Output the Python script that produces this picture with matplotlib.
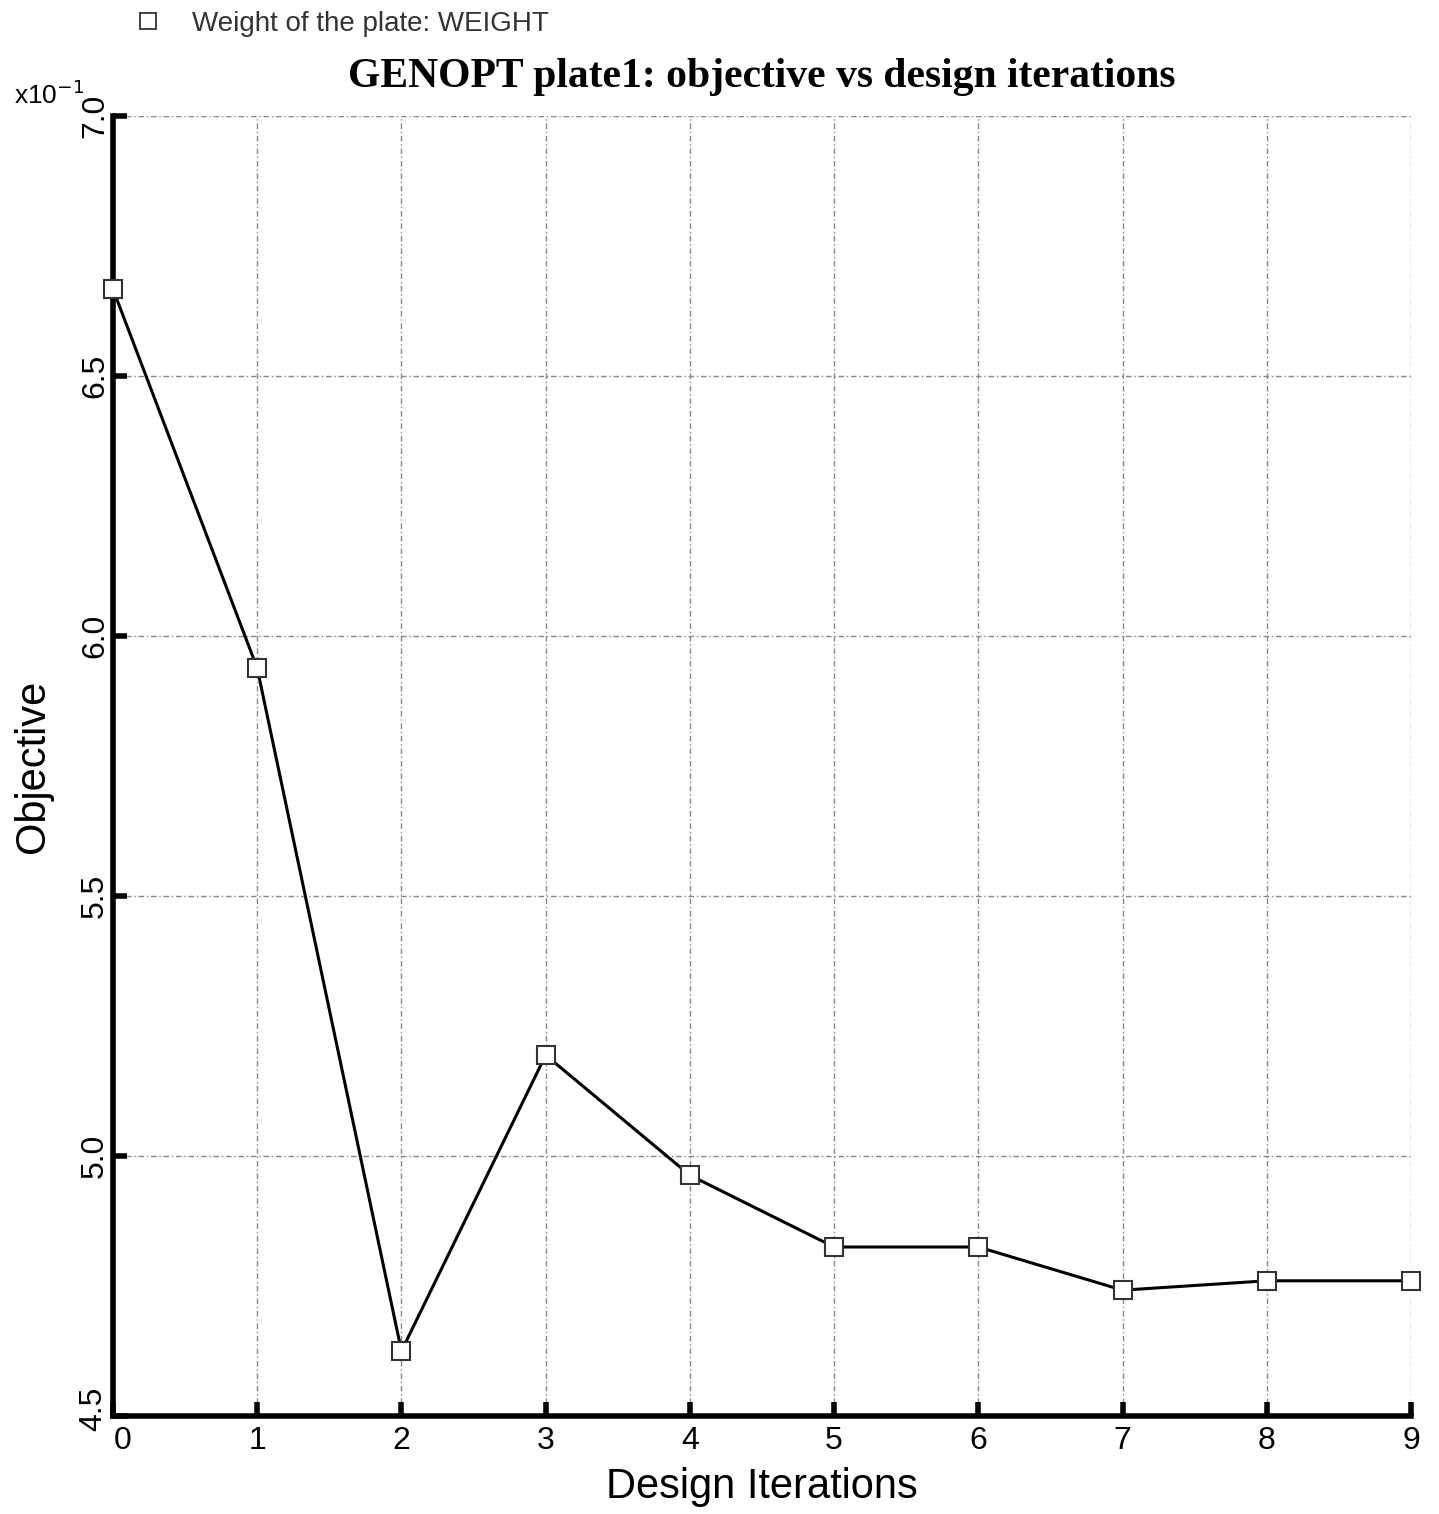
import matplotlib
matplotlib.use("Agg")
import matplotlib.pyplot as plt
import matplotlib.transforms as mtransforms
from matplotlib.lines import Line2D

# Data (objective values shown in units of x10^-1)
iterations = [0, 1, 2, 3, 4, 5, 6, 7, 8, 9]
objective_x10 = [6.667, 5.938, 4.625, 5.194, 4.963, 4.825, 4.825, 4.742, 4.760, 4.760]
y_ticks = [4.5, 5.0, 5.5, 6.0, 6.5, 7.0]
y_ticklabels = ["4.5", "5.0", "5.5", "6.0", "6.5", "7.0"]
series_label = "Weight of the plate: WEIGHT"
title = "GENOPT plate1: objective vs design iterations"

W, H = 1439, 1514
fig = plt.figure(figsize=(W / 100, H / 100), dpi=100)
ax = fig.add_axes([113 / W, 1 - 1416 / H, (1411 - 113) / W, (1416 - 116) / H])

ax.plot(iterations, objective_x10, color="black", lw=2.2, marker="s", ms=13,
        mfc="white", mec="#333333", mew=1.5, clip_on=False, zorder=3)

ax.set_xlim(0, 9)
ax.set_ylim(4.5, 7.0)
ax.set_xticks(iterations)
ax.set_xticklabels([str(i) for i in iterations], fontsize=23, family="Liberation Sans")
ax.set_yticks(y_ticks)
ax.set_yticklabels(y_ticklabels, fontsize=23, family="Liberation Sans", rotation=90, va="center")

ax.grid(True, color="#888888", linestyle=(0, (4, 2, 1, 2)), lw=1.0)
for s in ["top", "right"]:
    ax.spines[s].set_visible(False)
for s in ["left", "bottom"]:
    ax.spines[s].set_linewidth(4)
ax.tick_params(axis="both", direction="in", length=10, width=4, pad=7)
ax.tick_params(axis="y", pad=2)

# nudge the corner labels apart, as in the reference
xl0 = ax.get_xticklabels()[0]
xl0.set_transform(xl0.get_transform() + mtransforms.ScaledTranslation(10 / 100, 0, fig.dpi_scale_trans))
yl0 = ax.get_yticklabels()[0]
yl0.set_transform(yl0.get_transform() + mtransforms.ScaledTranslation(-2 / 100, 7 / 100, fig.dpi_scale_trans))

ax.set_xlabel("Design Iterations", fontsize=30, family="Liberation Sans", labelpad=8)
ax.set_ylabel("Objective", fontsize=30, family="Liberation Sans", labelpad=18)
ax.set_title(title, fontsize=30, family="Liberation Serif", fontweight="bold", pad=21)

fig.text(14 / W, 1 - 95 / H, r"x10$^{-1}$", fontsize=19, family="Liberation Sans", va="center")

# legend at top-left
h = Line2D([], [], color="none", marker="s", ms=11, mfc="white", mec="#333333", mew=1.3)
fig.legend([h], [series_label], loc="upper left", bbox_to_anchor=(106 / W, 1 + 14 / H),
           frameon=False, prop={"family": "Liberation Sans", "size": 20},
           handlelength=1.2, handletextpad=1.0, labelcolor="#333333")

fig.savefig("out.png", dpi=100)
